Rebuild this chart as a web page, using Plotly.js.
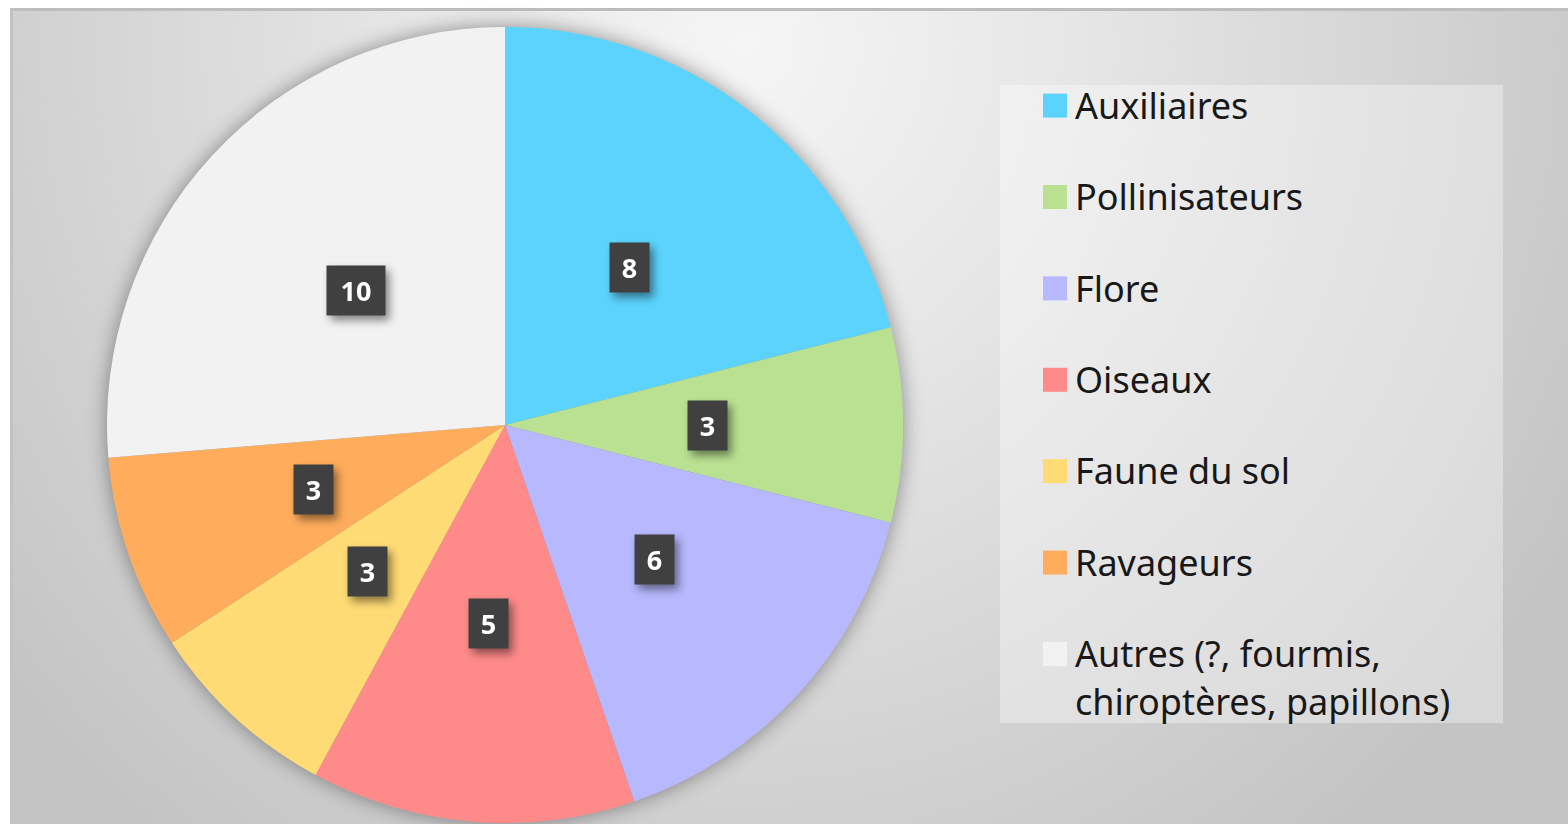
<!DOCTYPE html>
<html>
<head>
<meta charset="utf-8">
<script src="https://cdn.plot.ly/plotly-3.0.1.min.js"></script>
<style>
  html, body { margin: 0; padding: 0; background: #ffffff; }
  #frame {
    position: absolute; left: 10px; top: 8px; width: 1558px; height: 816px;
    box-sizing: border-box; border-top: 3px solid #bdbdbd; border-left: 3px solid #c2c2c2;
    background: radial-gradient(ellipse 950px 1000px at 47% 4%, #f5f5f5 0%, #e6e6e6 35%, #c4c4c4 100%);
  }
  #chart { position: absolute; left: 0; top: 0; width: 1568px; height: 824px; }
  .pielayer { filter: drop-shadow(0px 0px 10px rgba(0,0,0,0.4)); }
  .annotation-text-g { filter: drop-shadow(4px 5px 4px rgba(0,0,0,0.45)); }
</style>
</head>
<body>
<div id="frame"></div>
<div id="chart"></div>
<script>
// ---- data ----
const categories = ["Auxiliaires", "Pollinisateurs", "Flore", "Oiseaux", "Faune du sol", "Ravageurs", "Autres (?, fourmis, chiroptères, papillons)"];
const legendLines = [["Auxiliaires"], ["Pollinisateurs"], ["Flore"], ["Oiseaux"], ["Faune du sol"], ["Ravageurs"], ["Autres (?, fourmis,", "chiroptères, papillons)"]];
const counts = [8, 3, 6, 5, 3, 3, 10];
const sliceColors = ["#5cd3fd", "#bae191", "#b7b8fd", "#ff8a8a", "#ffdb75", "#ffad5c", "#f2f2f2"];

// ---- layout geometry (pixels) ----
const W = 1568, H = 824;
const cx = 505, cy = 425, R = 398;

// legend labels: larger glyphs, single-line entries padded with an empty line for spacing
const big = s => '<span style="font-size:36px">' + s + '</span>';
const shownLabels = legendLines.map(lines =>
  lines.length > 1 ? lines.map(big).join("<br>") : big(lines[0]) + "<br>\u00a0");

const total = counts.reduce((a, b) => a + b, 0);
let cum = 0;
const annotations = counts.map((v, i) => {
  const mid = cum + v / 2;
  cum += v;
  const th = 2 * Math.PI * mid / total;
  const px = cx + 0.51 * R * Math.sin(th);
  const py = cy - 0.50 * R * Math.cos(th);
  const txt = String(v);
  return {
    xref: "paper", yref: "paper", x: px / W, y: 1 - py / H,
    xanchor: "center", yanchor: "middle",
    text: "<b>" + txt + "</b>", showarrow: false,
    bgcolor: "#404040", borderpad: 0,
    width: 20 + 19 * txt.length, height: 49,
    font: { family: "Noto Sans", size: 27, color: "#ffffff" }
  };
});

const trace = {
  type: "pie",
  labels: shownLabels,
  values: counts,
  sort: false,
  direction: "clockwise",
  rotation: 0,
  textinfo: "none",
  hoverinfo: "label+value",
  marker: { colors: sliceColors, line: { width: 0 } },
  domain: { x: [0, (2 * cx) / W], y: [1 - (cy + R) / H, 1 - (cy - R) / H] }
};

const layout = {
  width: W, height: H,
  margin: { l: 0, r: 0, t: 0, b: 0 },
  paper_bgcolor: "rgba(0,0,0,0)",
  plot_bgcolor: "rgba(0,0,0,0)",
  showlegend: true,
  legend: {
    x: (1055 - 20) / W, xanchor: "left",
    y: 1 - 77 / H, yanchor: "top",
    valign: "top",
    bgcolor: "rgba(0,0,0,0)",
    font: { family: "Noto Sans", size: 34, color: "#181818" },
    traceorder: "normal"
  },
  shapes: [{
    type: "rect", xref: "paper", yref: "paper", layer: "below",
    x0: 1000 / W, x1: 1503 / W, y0: 1 - 723 / H, y1: 1 - 85 / H,
    fillcolor: "rgba(255,255,255,0.35)", line: { width: 0 }
  }],
  annotations: annotations
};

Plotly.newPlot("chart", [trace], layout, { displayModeBar: false, staticPlot: true }).then(() => {
  document.querySelectorAll(".legendpoints path").forEach(p => {
    p.setAttribute("d", "M12,12V-12H-12V12Z");
  });
  // slightly wider line spacing for the two-line legend entry, as in the reference
  const texts = document.querySelectorAll(".legendtext");
  const last = texts[texts.length - 1];
  if (last) {
    const lines = last.querySelectorAll("tspan.line");
    if (lines.length > 1) {
      const y0 = parseFloat(lines[1].getAttribute("y"));
      if (!isNaN(y0)) lines[1].setAttribute("y", y0 + 4);
      else lines[1].setAttribute("dy", "1.42em");
    }
  }
});
</script>
</body>
</html>
